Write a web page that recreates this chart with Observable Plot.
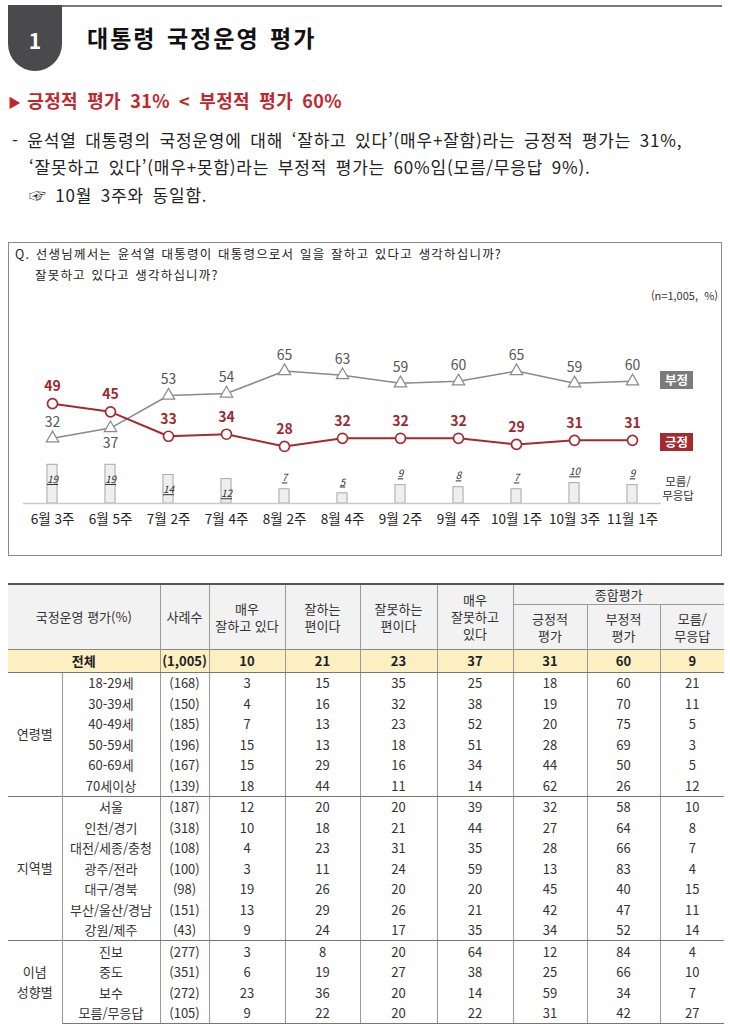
<!DOCTYPE html>
<html lang="ko">
<head>
<meta charset="utf-8">
<script src="https://cdn.jsdelivr.net/npm/d3@7"></script>
<script src="https://cdn.jsdelivr.net/npm/@observablehq/plot@0.6"></script>
<style>
  html, body { margin:0; padding:0; background:#fff; }
  body { width:730px; height:1028px; position:relative; overflow:hidden;
         font-family:"Noto Sans CJK KR","Noto Sans",sans-serif; color:#222; }
  .abs { position:absolute; white-space:nowrap; }
  #topline { left:62px; top:5px; width:660px; height:2px; background:#7a7a7a; }
  #tab { left:8px; top:5px; width:54px; height:66px; background:#4a4a4c;
         border-radius:0 0 27px 27px; color:#fff; font-weight:700; font-size:21px;
         text-align:center; line-height:70px; }
  #title { left:87px; top:20px; font-size:23px; font-weight:700; color:#111; letter-spacing:2px; word-spacing:2px; }
  #headline { left:8px; top:87px; font-size:18px; font-weight:700; color:#c1272d; letter-spacing:0.3px; word-spacing:4px; }
  #headline .tri { font-size:13px; margin-right:6px; position:relative; top:-1px; }
  .para { font-size:17px; color:#222; letter-spacing:0.8px; word-spacing:3px; }
  #chartbox { left:8px; top:242px; width:712px; height:312px; border:1px solid #8a8a8a; }
  .q { font-size:12.5px; color:#222; letter-spacing:1.2px; word-spacing:1px; }
  #n { right:12px; top:287px; font-size:11px; color:#333; }
  .tag { width:33px; height:18px; color:#fff; font-weight:700; font-size:12.5px; text-align:center; line-height:18px; }
  #neg { left:660px; top:371px; background:#7b7b7b; }
  #pos { left:660px; top:433px; background:#a52a30; }
  #dkl { left:660px; top:474px; width:36px; font-size:11.5px; line-height:14px; text-align:center; color:#333; white-space:normal; }
  #plot { position:absolute; left:8px; top:300px; }
  table { position:absolute; left:8px; top:583px; width:716px; border-collapse:collapse; table-layout:fixed;
          font-size:13px; color:#333; text-align:center; }
  th, td { padding:0; border-left:1px solid #9a9a9a; border-right:1px solid #9a9a9a; }
  tr > *:first-child { border-left:none; }
  tr > *:last-child { border-right:none; }
  thead th { background:#f2f2f2; font-weight:400; line-height:17px; font-size:13px; color:#333; }
  thead tr:first-child th { border-top:2px solid #555; }
  thead tr.r1 { height:20px; }
  thead tr.r2 { height:45px; }
  th.sub { border-top:1px solid #9a9a9a; }
  tr.total td { background:#fcf0c2; font-weight:700; height:22px; border-top:1px solid #888; border-bottom:1px solid #777; color:#222; }
  tbody tr.body td { height:20.5px; line-height:19px; }
  tbody tr.first td { border-top:1px solid #777; }
  td.grp { line-height:20px !important; }
  tbody tr.last td { border-bottom:1px solid #777; }
</style>
</head>
<body>
<div id="topline" class="abs"></div>
<div id="tab" class="abs">1</div>
<div id="title" class="abs">대통령 국정운영 평가</div>
<div id="headline" class="abs"><span class="tri">▶</span>긍정적 평가 31% &lt; 부정적 평가 60%</div>
<div class="abs para" style="left:12px; top:127px;">- 윤석열 대통령의 국정운영에 대해 ‘잘하고 있다’(매우+잘함)라는 긍정적 평가는 31%,</div>
<div class="abs para" style="left:29px; top:154px;">‘잘못하고 있다’(매우+못함)라는 부정적 평가는 60%임(모름/무응답 9%).</div>
<div class="abs para" style="left:29px; top:182px;">☞ 10월 3주와 동일함.</div>

<div id="chartbox" class="abs"></div>
<div class="abs q" style="left:15px; top:244px;">Q. 선생님께서는 윤석열 대통령이 대통령으로서 일을 잘하고 있다고 생각하십니까?</div>
<div class="abs q" style="left:35px; top:265px;">잘못하고 있다고 생각하십니까?</div>
<div id="n" class="abs">(n=1,005,&nbsp; %)</div>
<div id="plot"></div>
<div id="neg" class="abs tag">부정</div>
<div id="pos" class="abs tag">긍정</div>
<div id="dkl" class="abs">모름/<br>무응답</div>

<div id="tablewrap"></div>

<script>
// ---------- chart data ----------
const weeks = ["6월 3주","6월 5주","7월 2주","7월 4주","8월 2주","8월 4주","9월 2주","9월 4주","10월 1주","10월 3주","11월 1주"];
const positive = [49,45,33,34,28,32,32,32,29,31,31];
const negative = [32,37,53,54,65,63,59,60,65,59,60];
const dontKnow = [19,19,14,12,7,5,9,8,7,10,9];

// ---------- table data ----------
const tableHeaders = ["매우<br>잘하고 있다","잘하는<br>편이다","잘못하는<br>편이다","매우<br>잘못하고<br>있다"];
const summaryHeaders = ["긍정적<br>평가","부정적<br>평가","모름/<br>무응답"];
const totalN = "(1,005)";
const totalValues = [10,21,23,37,31,60,9];

const ageLabels = ["18-29세","30-39세","40-49세","50-59세","60-69세","70세이상"];
const ageN = ["(168)","(150)","(185)","(196)","(167)","(139)"];
const ageValues = [
  [3,15,35,25,18,60,21],
  [4,16,32,38,19,70,11],
  [7,13,23,52,20,75,5],
  [15,13,18,51,28,69,3],
  [15,29,16,34,44,50,5],
  [18,44,11,14,62,26,12]
];
const regionLabels = ["서울","인천/경기","대전/세종/충청","광주/전라","대구/경북","부산/울산/경남","강원/제주"];
const regionN = ["(187)","(318)","(108)","(100)","(98)","(151)","(43)"];
const regionValues = [
  [12,20,20,39,32,58,10],
  [10,18,21,44,27,64,8],
  [4,23,31,35,28,66,7],
  [3,11,24,59,13,83,4],
  [19,26,20,20,45,40,15],
  [13,29,26,21,42,47,11],
  [9,24,17,35,34,52,14]
];
const ideologyLabels = ["진보","중도","보수","모름/무응답"];
const ideologyN = ["(277)","(351)","(272)","(105)"];
const ideologyValues = [
  [3,8,20,64,12,84,4],
  [6,19,27,38,25,66,10],
  [23,36,20,14,59,34,7],
  [9,22,20,22,31,42,27]
];

// ---------- chart ----------
const data = weeks.map((w, i) => ({i, week: w, pos: positive[i], neg: negative[i], dk: dontKnow[i]}));
const GRAY = "#8a8a8a", RED = "#a52a30";
const crossing = d => d.neg < d.pos && d.pos - d.neg < 10;
const chart = Plot.plot({
  width: 714, height: 240,
  marginLeft: 15, marginRight: 61, marginTop: 40, marginBottom: 37,
  x: {type: "linear", domain: [-0.5, 10.5]},
  y: {domain: [0, 80], axis: null},
  style: {fontFamily: "'Noto Sans CJK KR', sans-serif", background: "transparent", overflow: "visible"},
  marks: [
    Plot.rectY(data, {x1: d => d.i - 0.087, x2: d => d.i + 0.087, y: "dk", fill: "#efefef", stroke: "#a8a8a8", strokeWidth: 1}),
    Plot.ruleY([0], {stroke: "#c9c9c9", strokeWidth: 1.5}),
    Plot.text(data.filter(d => d.dk >= 12), {x: "i", y: "dk", text: d => String(d.dk), dy: 15, fontSize: 10, fontStyle: "italic", fill: "#333"}),
    Plot.text(data.filter(d => d.dk < 12), {x: "i", y: "dk", text: d => String(d.dk), dy: -11, fontSize: 10, fontStyle: "italic", fill: "#333"}),
    Plot.line(data, {x: "i", y: "neg", stroke: GRAY, strokeWidth: 1.5}),
    Plot.line(data, {x: "i", y: "pos", stroke: RED, strokeWidth: 2}),
    Plot.dot(data, {x: "i", y: "neg", symbol: "triangle", r: 4.6, fill: "white", stroke: GRAY, strokeWidth: 1.2}),
    Plot.dot(data, {x: "i", y: "pos", r: 5, fill: "white", stroke: RED, strokeWidth: 1.7}),
    Plot.text(data.filter(d => !crossing(d)), {x: "i", y: "neg", text: d => String(d.neg), dy: -16, fontSize: 14, fill: "#555"}),
    Plot.text(data.filter(crossing), {x: "i", y: "neg", text: d => String(d.neg), dy: 15, fontSize: 14, fill: "#555"}),
    Plot.text(data, {x: "i", y: "pos", text: d => String(d.pos), dy: -17, fontSize: 14, fontWeight: 700, fill: "#9e2a30"}),
    Plot.axisX(data.map(d => d.i), {tickFormat: i => weeks[i], tickSize: 0, tickPadding: 11, fontSize: 13.5, fill: "#222", label: null})
  ]
});
chart.querySelectorAll('g[font-style="italic"] text').forEach(t => { t.style.textDecoration = "underline"; });
document.getElementById("plot").appendChild(chart);

// ---------- table ----------
function groupRows(name, labels, ns, values) {
  return labels.map((lab, r) => {
    const cls = ["body", r === 0 ? "first" : "", r === labels.length - 1 ? "last" : ""].join(" ");
    const grp = r === 0 ? `<td class="grp" rowspan="${labels.length}">${name}</td>` : "";
    return `<tr class="${cls}">${grp}<td>${lab}</td><td>${ns[r]}</td>${values[r].map(v => `<td>${v}</td>`).join("")}</tr>`;
  }).join("");
}
const colWidths = [54, 98, 49, 76, 75, 77, 76, 74, 73, 64];
let html = `<table><colgroup>${colWidths.map(w => `<col style="width:${w}px">`).join("")}</colgroup><thead>`;
html += `<tr class="r1"><th colspan="2" rowspan="2">국정운영 평가(%)</th><th rowspan="2">사례수</th>`;
html += tableHeaders.map(h => `<th rowspan="2">${h}</th>`).join("");
html += `<th colspan="3">종합평가</th></tr>`;
html += `<tr class="r2">${summaryHeaders.map(h => `<th class="sub">${h}</th>`).join("")}</tr></thead><tbody>`;
html += `<tr class="total"><td colspan="2">전체</td><td>${totalN}</td>${totalValues.map(v => `<td>${v}</td>`).join("")}</tr>`;
html += groupRows("연령별", ageLabels, ageN, ageValues);
html += groupRows("지역별", regionLabels, regionN, regionValues);
html += groupRows("이념<br>성향별", ideologyLabels, ideologyN, ideologyValues);
html += `</tbody></table>`;
document.getElementById("tablewrap").innerHTML = html;
</script>
</body>
</html>
